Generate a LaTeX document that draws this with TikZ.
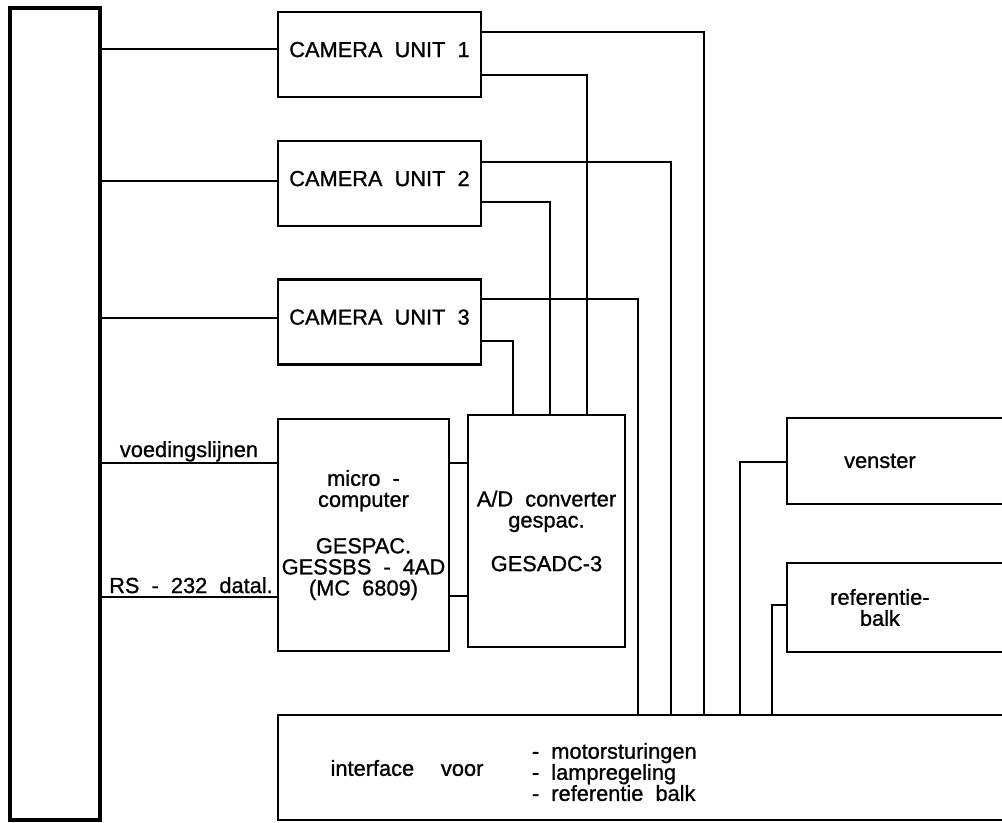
\documentclass[tikz,border=0pt]{standalone}
\usepackage{fontspec}
\setmainfont{Liberation Sans}[WordSpace=2, FakeBold=1]
\usepackage{tikz}

\begin{document}
\begin{tikzpicture}[x=0.025cm, y=-0.025cm,
  font=\fontsize{15.5}{15}\selectfont,
  box/.style = {rectangle, draw, line width=1.9pt, inner sep=0pt, align=center},
  cam/.style = {box, minimum width=5.075cm, minimum height=2.125cm, text depth=0.25cm},
  side/.style = {box, minimum width=6.325cm},
  wire/.style = {line width=1.4pt}
]
  \useasboundingbox (0,0) rectangle (1002,823);
  \clip (0,0) rectangle (1002,823);

  \node[box, line width=2.8pt, minimum width=2.25cm, minimum height=20.3cm] (bus) at (55,414) {};
  \node[cam] (cam1) at (379.5,54.5)  {CAMERA UNIT 1};
  \node[cam] (cam2) at (379.5,183.5) {CAMERA UNIT 2};
  \node[cam] (cam3) at (379.5,322)   {CAMERA UNIT 3};
  \node[box, minimum width=4.275cm, minimum height=5.8cm] (micro) at (363.5,535)
    {micro -\\computer\\[18pt]GESPAC.\\GESSBS - 4AD\\(MC 6809)};
  \node[box, minimum width=3.925cm, minimum height=5.8cm] (adc) at (546.5,531)
    {A/D converter\\gespac.\\[16pt]GESADC-3};
  \node[side, minimum height=2.15cm,
    label={[name=ventxt, xshift=-0.84cm]center:venster}] (venster) at (913.5,461) {};
  \node[side, minimum height=2.225cm,
    label={[name=reftxt, xshift=-0.84cm, align=center]center:{referentie-\\balk}}] (refbalk) at (913.5,607.5) {};
  \node[box, minimum width=19.05cm, minimum height=2.625cm] (iface) at (659,767.5) {};
  \node (ifvoor) at (407,768) {interface\hspace{1.23em}voor};
  \node[anchor=west, align=left] (iflist) at (527,772)
    {- motorsturingen\\- lampregeling\\- referentie balk};

  \node[anchor=base] (voed) at (189,457) {voedingslijnen};
  \node[anchor=base] (rs)   at (191,593) {RS - 232 datal.};

  % bus to the units
  \draw[wire] (bus.east |- 0,49)  -- (cam1.west |- 0,49);
  \draw[wire] (bus.east |- 0,181) -- (cam2.west |- 0,181);
  \draw[wire] (bus.east |- 0,318) -- (cam3.west |- 0,318);
  \draw[wire] (bus.east |- 0,463) -- (micro.west |- 0,463);
  \draw[wire] (bus.east |- 0,597) -- (micro.west |- 0,597);

  % micro to converter
  \draw[wire] (micro.east |- 0,463) -- (adc.west |- 0,463);
  \draw[wire] (micro.east |- 0,596) -- (adc.west |- 0,596);

  % cameras to interface and converter
  \draw[wire] (cam1.east |- 0,32)  -| (704,0 |- iface.north);
  \draw[wire] (cam1.east |- 0,75)  -| (587,0 |- adc.north);
  \draw[wire] (cam2.east |- 0,162) -| (671,0 |- iface.north);
  \draw[wire] (cam2.east |- 0,202) -| (550,0 |- adc.north);
  \draw[wire] (cam3.east |- 0,299) -| (638,0 |- iface.north);
  \draw[wire] (cam3.east |- 0,341) -| (513,0 |- adc.north);

  % venster and referentiebalk to interface
  \draw[wire] (venster.west |- 0,462) -| (740,0 |- iface.north);
  \draw[wire] (refbalk.west |- 0,605) -| (772,0 |- iface.north);
\end{tikzpicture}
\end{document}
